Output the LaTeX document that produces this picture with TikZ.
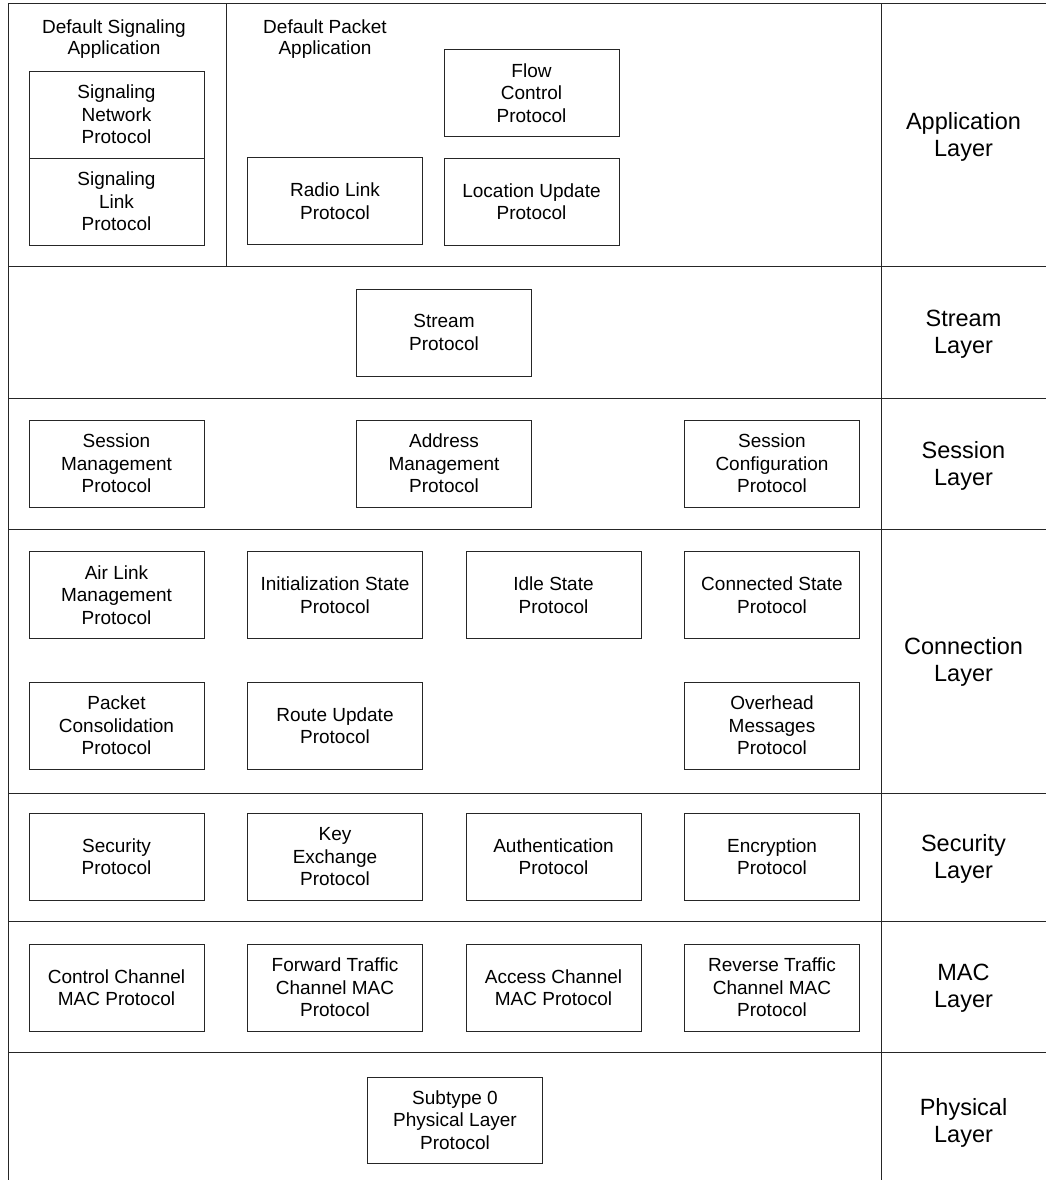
\documentclass[tikz,border=0pt]{standalone}
\usepackage{fontspec}
\setmainfont{Liberation Sans}
\begin{document}
\begin{tikzpicture}[x=1pt,y=-1pt,
  proto/.style={draw=black!85, line width=0.9pt, minimum width=175pt, minimum height=87pt,
    inner sep=0pt, align=center, font=\fontsize{19}{22.5}\selectfont},
  layerlbl/.style={align=center, font=\fontsize{23.5}{27}\selectfont},
  headlbl/.style={align=center, font=\fontsize{19}{20.5}\selectfont},
  frameline/.style={draw=black!85, line width=1pt}]
\useasboundingbox (0,0) rectangle (1046,1180);
% frame
\draw[frameline] (1046,4) -- (8,4) -- (8,1180);
\draw[frameline] (881,4) -- (881,1180);
\foreach \yy in {266,398,529,793,921,1052} \draw[frameline] (8,\yy) -- (1046,\yy);
\draw[frameline] (226,4) -- (226,266);
% application layer
\node[headlbl] (dsa) at (114,39) {Default Signaling\\Application};
\node[headlbl] (dpa) at (325,39) {Default Packet\\Application};
\node[proto] (snp) at (116.5,114.5) {Signaling\\Network\\Protocol};
\node[proto] (slp) at (116.5,201.5) {Signaling\\Link\\Protocol};
\node[proto] (fcp) at (531.5,93) {Flow\\Control\\Protocol};
\node[proto] (rlp) at (335,201) {Radio Link\\Protocol};
\node[proto] (lup) at (531.5,201.5) {Location Update\\Protocol};
% stream
\node[proto] (stp) at (444,332.5) {Stream\\Protocol};
% session
\node[proto] (smp) at (116.5,463.5) {Session\\Management\\Protocol};
\node[proto] (amp) at (444,463.5) {Address\\Management\\Protocol};
\node[proto] (scp) at (772,463.5) {Session\\Configuration\\Protocol};
% connection
\node[proto] (alm) at (116.5,595) {Air Link\\Management\\Protocol};
\node[proto] (isp) at (335,595) {Initialization State\\Protocol};
\node[proto] (idp) at (553.5,595) {Idle State\\Protocol};
\node[proto] (csp) at (772,595) {Connected State\\Protocol};
\node[proto] (pcp) at (116.5,725.5) {Packet\\Consolidation\\Protocol};
\node[proto] (rup) at (335,725.5) {Route Update\\Protocol};
\node[proto] (omp) at (772,725.5) {Overhead\\Messages\\Protocol};
% security
\node[proto] (sec) at (116.5,856.5) {Security\\Protocol};
\node[proto] (kep) at (335,857) {Key\\Exchange\\Protocol};
\node[proto] (aup) at (553.5,856.5) {Authentication\\Protocol};
\node[proto] (enp) at (772,856.5) {Encryption\\Protocol};
% MAC
\node[proto] (ccm) at (116.5,987.5) {Control Channel\\MAC Protocol};
\node[proto] (ftm) at (335,987.5) {Forward Traffic\\Channel MAC\\Protocol};
\node[proto] (acm) at (553.5,987.5) {Access Channel\\MAC Protocol};
\node[proto] (rtm) at (772,987.5) {Reverse Traffic\\Channel MAC\\Protocol};
% physical
\node[proto, minimum height=86pt] (phy) at (455,1120) {Subtype 0\\Physical Layer\\Protocol};
% layer labels
\node[layerlbl] (lapp) at (963.5,137) {Application\\Layer};
\node[layerlbl] (lstr) at (963.5,334) {Stream\\Layer};
\node[layerlbl] (lses) at (963.5,465.5) {Session\\Layer};
\node[layerlbl] (lcon) at (963.5,662) {Connection\\Layer};
\node[layerlbl] (lsec) at (963.5,858.5) {Security\\Layer};
\node[layerlbl] (lmac) at (963.5,988.5) {MAC\\Layer};
\node[layerlbl] (lphy) at (963.5,1123) {Physical\\Layer};
\end{tikzpicture}
\end{document}
